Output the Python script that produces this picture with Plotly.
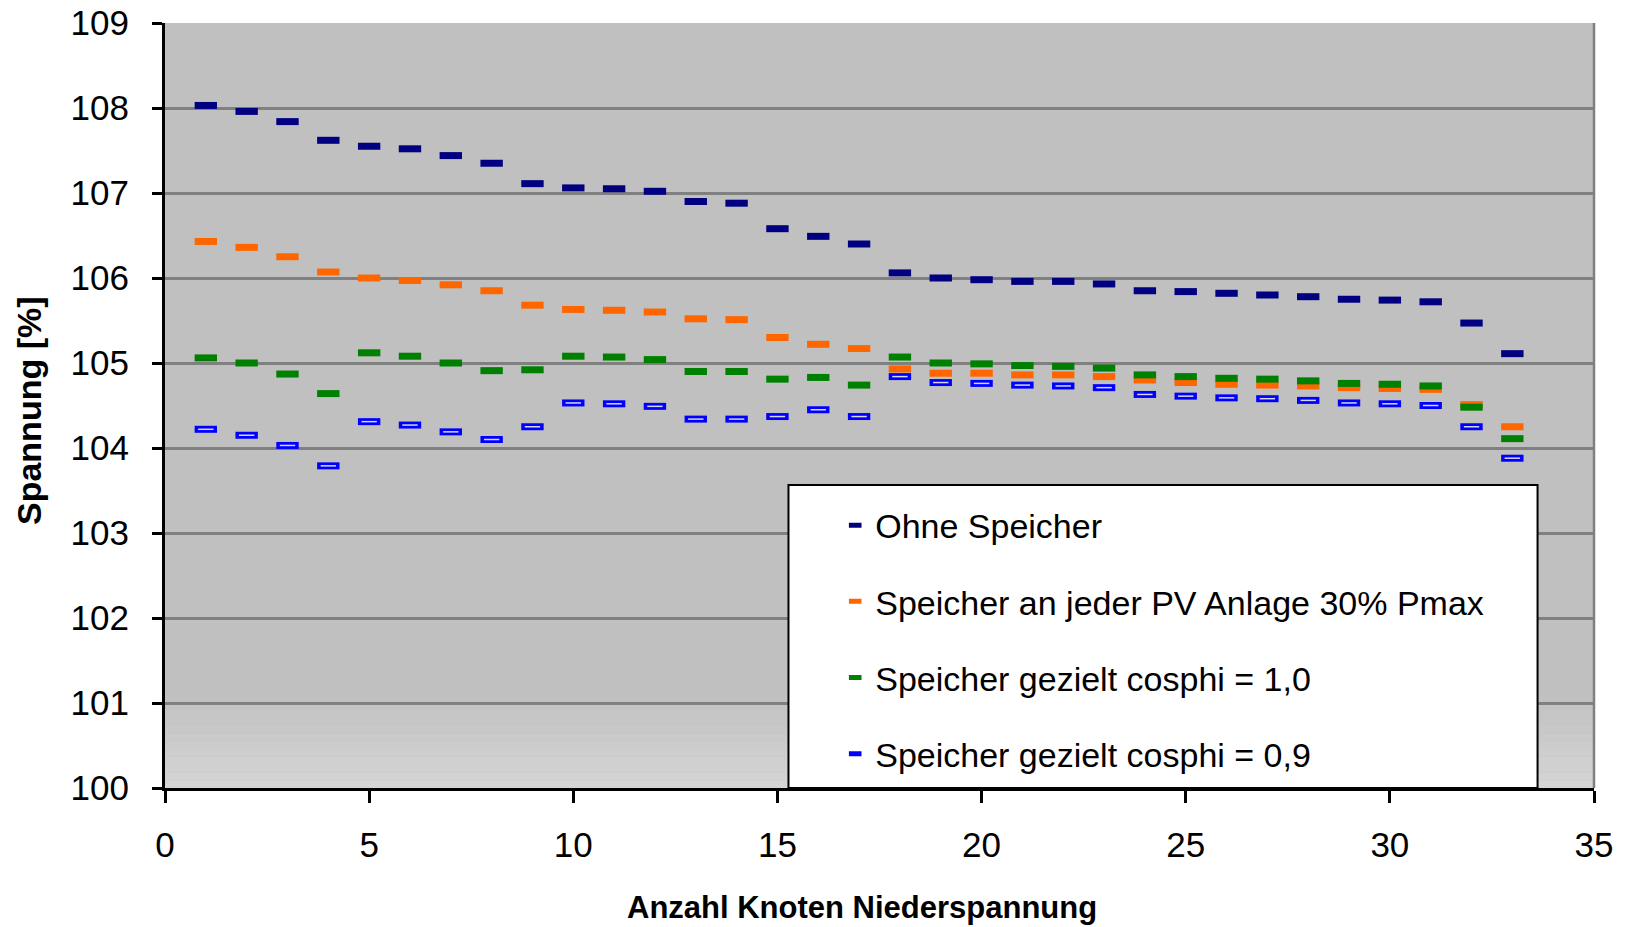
import plotly.graph_objects as go

# ---- data ----
knoten = list(range(1, 34))

ohne_speicher = [108.03, 107.96, 107.84, 107.62, 107.55, 107.52, 107.44, 107.35, 107.11, 107.06,
                 107.05, 107.02, 106.90, 106.88, 106.58, 106.49, 106.40, 106.06, 106.00, 105.98,
                 105.96, 105.96, 105.93, 105.85, 105.84, 105.82, 105.80, 105.78, 105.75, 105.74, 105.72,
                 105.47, 105.11]

speicher_jede_pv = [106.43, 106.36, 106.25, 106.07, 106.00, 105.97, 105.92, 105.85, 105.68, 105.63,
                    105.62, 105.60, 105.52, 105.51, 105.30, 105.22, 105.17, 104.93, 104.88, 104.88,
                    104.86, 104.86, 104.84, 104.80, 104.77, 104.75, 104.74, 104.73, 104.71, 104.70, 104.69,
                    104.51, 104.25]

gezielt_cos10 = [105.06, 105.00, 104.87, 104.64, 105.12, 105.08, 105.00, 104.91, 104.92, 105.08,
                 105.07, 105.04, 104.90, 104.90, 104.81, 104.83, 104.74, 105.07, 105.00, 104.99,
                 104.97, 104.96, 104.94, 104.86, 104.84, 104.82, 104.81, 104.79, 104.76, 104.75, 104.73,
                 104.48, 104.11]

gezielt_cos09 = [104.22, 104.15, 104.03, 103.79, 104.31, 104.27, 104.19, 104.10, 104.25, 104.53,
                 104.52, 104.49, 104.34, 104.34, 104.37, 104.45, 104.37, 104.84, 104.77, 104.76,
                 104.74, 104.73, 104.71, 104.63, 104.61, 104.59, 104.58, 104.56, 104.53, 104.52, 104.50,
                 104.25, 103.88]

series_names = ["Ohne Speicher",
                "Speicher an jeder PV Anlage 30% Pmax",
                "Speicher gezielt cosphi = 1,0",
                "Speicher gezielt cosphi = 0,9"]
series_values = [ohne_speicher, speicher_jede_pv, gezielt_cos10, gezielt_cos09]
series_colors = ["#000080", "#FF6600", "#008000", "#0000FF"]

x_ticks = [0, 5, 10, 15, 20, 25, 30, 35]
y_ticks = [100, 101, 102, 103, 104, 105, 106, 107, 108, 109]

FONT = "Liberation Sans, Arial, sans-serif"

fig = go.Figure()

# data markers (dash shaped)
for name, vals, col in zip(series_names, series_values, series_colors):
    fig.add_trace(go.Scatter(
        x=knoten, y=vals, mode="markers", name=name, showlegend=False,
        marker=dict(symbol="line-ew", size=16, color=col,
                    line=dict(color=col, width=7)),
        hoverinfo="x+y"))

# light inner line for the last series (hollow look)
fig.add_trace(go.Scatter(
    x=knoten, y=gezielt_cos09, mode="markers", showlegend=False, hoverinfo="skip",
    marker=dict(symbol="line-ew", size=11, color="#d6d6f2",
                line=dict(color="#d6d6f2", width=1.5))))

# legend entries (small dashes)
for i, (name, col) in enumerate(zip(series_names, series_colors)):
    fig.add_trace(go.Scatter(
        x=[None], y=[None], mode="markers", name=name, legendgroup=f"g{i}",
        marker=dict(symbol="line-ew", size=9, color=col,
                    line=dict(color=col, width=5))))

# background gradient near the bottom of the plot area
shapes = []
n_bands = 12
for k in range(n_bands):
    y0 = 100 + k * (1.1 / n_bands)
    y1 = 100 + (k + 1) * (1.1 / n_bands)
    t = 1 - (k + 0.5) / n_bands
    g = int(round(192 + t * 22))
    shapes.append(dict(type="rect", xref="paper", yref="y", x0=0, x1=1, y0=y0, y1=y1,
                       fillcolor=f"rgb({g},{g},{g})", line=dict(width=0), layer="below"))
# right border of plot area
shapes.append(dict(type="line", xref="paper", yref="paper", x0=1, x1=1, y0=0, y1=1,
                   line=dict(color="#808080", width=2.5)))
# legend box
shapes.append(dict(type="rect", xref="paper", yref="paper", x0=0.4363, x1=0.9605, y0=0, y1=0.396,
                   fillcolor="white", line=dict(color="black", width=2), layer="above"))

fig.update_layout(
    width=1631, height=927,
    margin=dict(l=165, r=37, t=23, b=139),
    paper_bgcolor="white",
    plot_bgcolor="#C0C0C0",
    font=dict(family=FONT, size=35, color="black"),
    shapes=shapes,
    showlegend=True,
    legend=dict(x=0.469, y=0.381, xanchor="left", yanchor="top",
                bgcolor="rgba(0,0,0,0)", borderwidth=0,
                font=dict(family=FONT, size=34, color="black"),
                tracegroupgap=29, itemwidth=30),
    xaxis=dict(range=[0, 35], tickmode="array", tickvals=x_ticks,
               showgrid=False, zeroline=False, automargin=False,
               showline=True, linecolor="black", linewidth=3,
               ticks="outside", ticklen=12, tickwidth=3, tickcolor="black",
               tickfont=dict(size=35), ticklabelstandoff=12),
    yaxis=dict(range=[100, 109], tickmode="array", tickvals=y_ticks,
               showgrid=True, gridcolor="#808080", gridwidth=2.5, zeroline=False,
               automargin=False,
               showline=True, linecolor="black", linewidth=3,
               ticks="outside", ticklen=10, tickwidth=3, tickcolor="black",
               tickfont=dict(size=35), ticklabelstandoff=16),
    annotations=[
        dict(text="<b>Anzahl Knoten Niederspannung</b>", xref="paper", yref="paper",
             x=(862 - 165) / 1429, y=(788 - 908) / 765, xanchor="center", yanchor="middle",
             showarrow=False, font=dict(family=FONT, size=31, color="black")),
        dict(text="<b>Spannung [%]</b>", xref="paper", yref="paper",
             x=(29 - 165) / 1429, y=(788 - 411) / 765, xanchor="center", yanchor="middle",
             textangle=-90, showarrow=False, font=dict(family=FONT, size=34, color="black")),
    ],
)

fig.write_html("out.html")
